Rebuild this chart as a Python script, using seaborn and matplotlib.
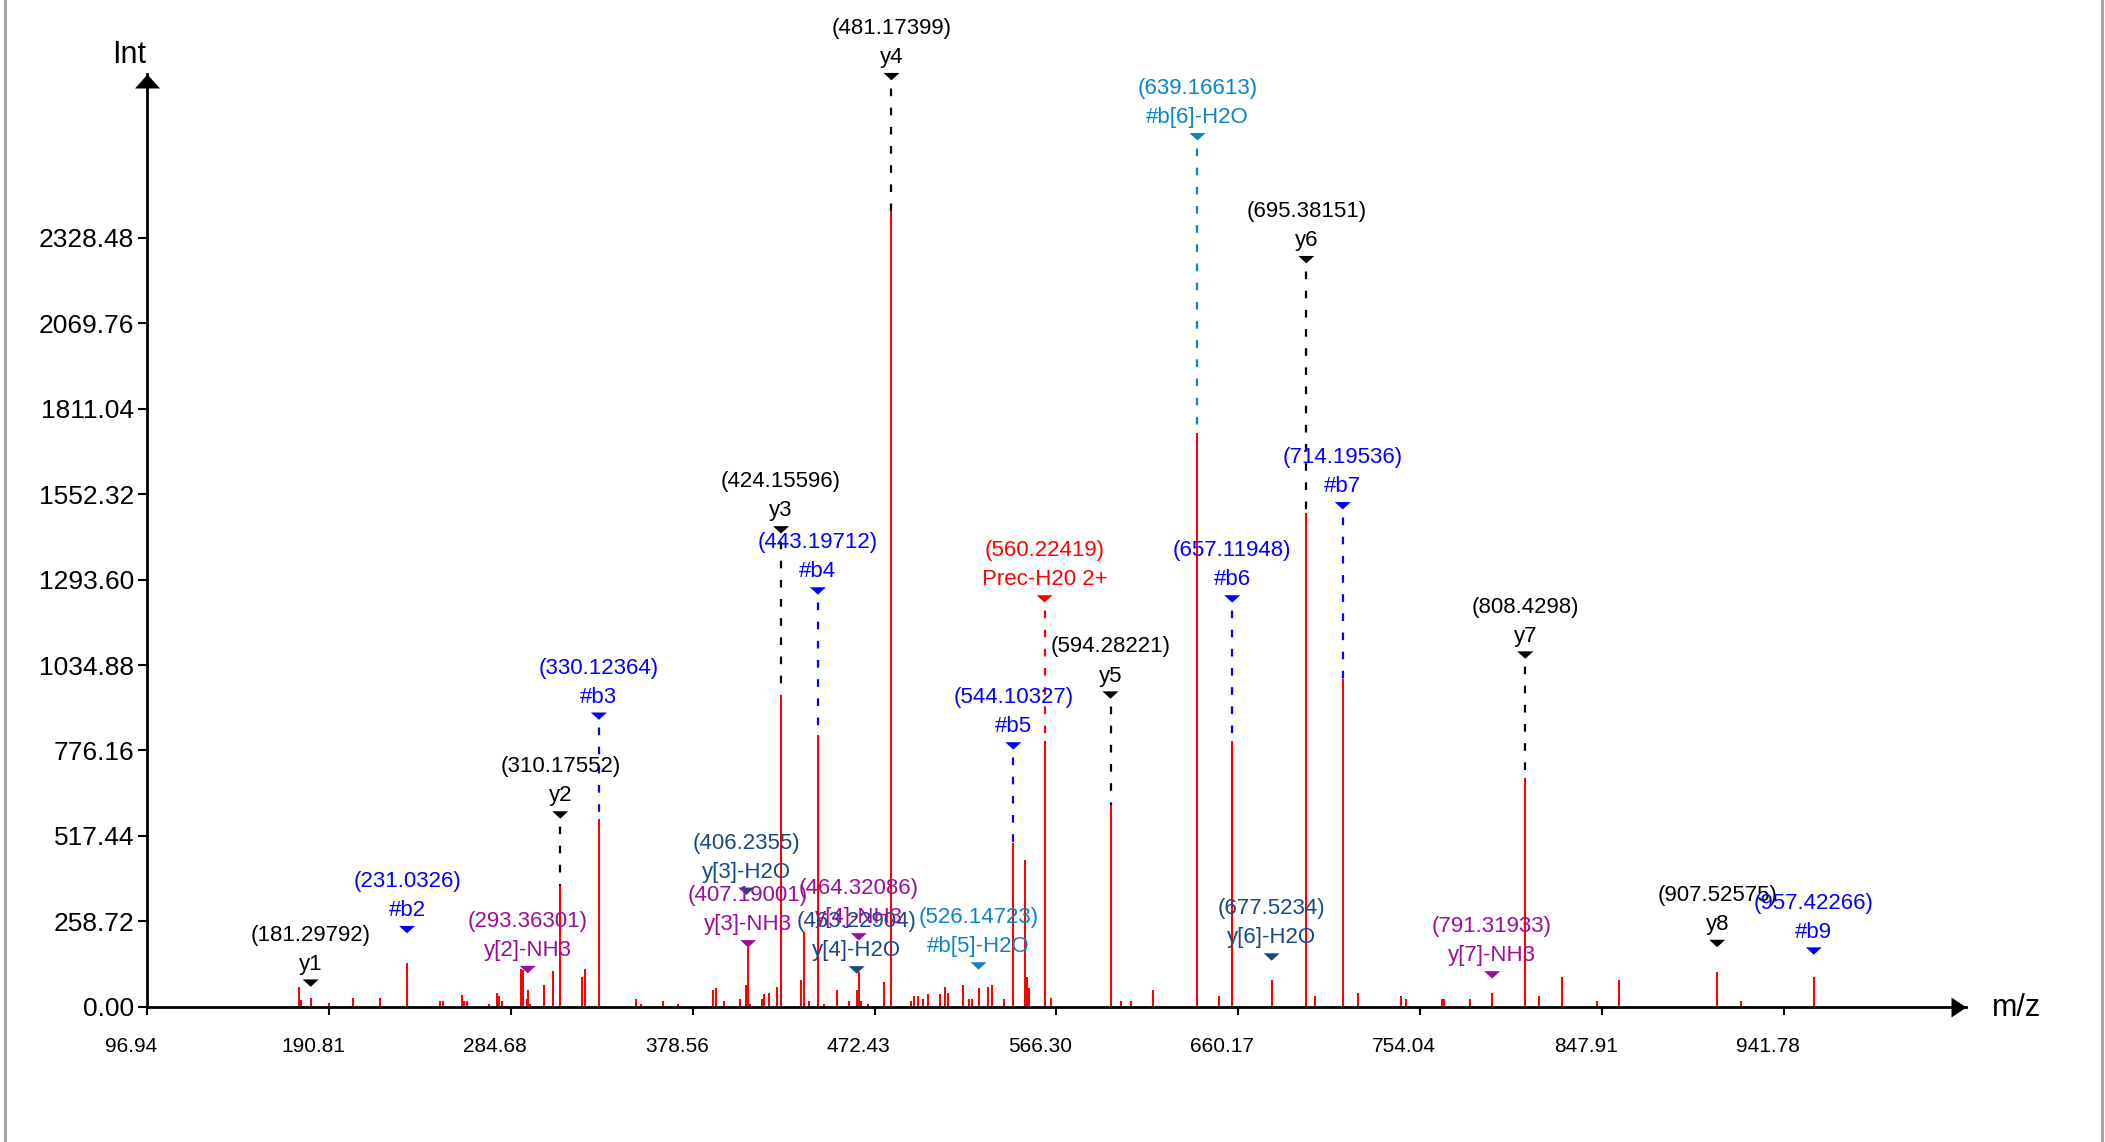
import numpy as np
import pandas as pd
import matplotlib.pyplot as plt
import seaborn as sns
from matplotlib.markers import MarkerStyle
from matplotlib.lines import Line2D
from matplotlib.transforms import ScaledTranslation

# Спектр: m/z и интенсивность пиков
peak_mz = [175.3, 176.4, 181.29792, 190.6, 203.4, 216.9,
           231.0326, 248.3, 249.5, 259.5, 260.7, 261.9, 273.4, 277.3, 278.5, 279.9,
           289.8, 291.0, 292.8, 293.36301, 294.5, 302.0, 306.4, 310.17552,
           321.5, 322.9, 330.12364, 349.2, 352.0, 363.0, 371.0, 389.0, 390.4, 394.6,
           402.8, 406.2355, 407.19001, 408.3, 414.1, 415.3, 417.8, 422.0, 424.15596,
           434.4, 436.0, 438.6, 443.19712, 446.5, 453.0, 459.0, 463.22904, 464.32086,
           465.5, 469.3, 477.3, 481.17399, 491.2, 493.0, 494.9, 497.7, 500.1, 506.1,
           508.7, 510.3, 517.9, 521.4, 522.7, 526.14723, 531.0, 532.9, 539.1,
           544.10327, 549.9, 551.2, 552.4, 560.22419, 563.8, 594.28221, 599.5, 605.0,
           616.0, 639.16613, 650.2, 657.11948, 677.5234, 695.38151, 699.9, 714.19536,
           722.0, 744.1, 746.7, 765.4, 766.7, 779.8, 791.31933, 808.4298, 815.5,
           827.6, 845.5, 856.6, 907.52575, 920.0, 957.42266]
peak_int = [61, 22, 28, 13, 28, 28,
            132, 18, 18, 35, 18, 18, 9, 42, 34, 18,
            116, 112, 24, 50, 9, 67, 108, 365,
            92, 116, 570, 25, 9, 17, 9, 50, 58, 17,
            25, 65, 182, 9, 25, 40, 42, 59, 943,
            82, 227, 17, 822, 9, 50, 17, 50, 105,
            17, 9, 74, 2410, 17, 34, 34, 25, 40, 40,
            59, 42, 65, 25, 25, 57, 59, 65, 25,
            496, 446, 92, 57, 806, 26, 610, 17, 17,
            50, 1736, 34, 806, 82, 1494, 34, 992,
            42, 34, 25, 25, 25, 25, 42, 692, 34,
            90, 17, 82, 105, 17, 90]

# Аннотированные ионы
ion_mz = [181.29792, 231.0326, 293.36301, 310.17552, 330.12364, 406.2355,
          407.19001, 424.15596, 443.19712, 463.22904, 464.32086, 481.17399,
          526.14723, 544.10327, 560.22419, 594.28221, 639.16613, 657.11948,
          677.5234, 695.38151, 714.19536, 791.31933, 808.4298, 907.52575,
          957.42266]
ion_name = ['y1', '#b2', 'y[2]-NH3', 'y2', '#b3', 'y[3]-H2O',
            'y[3]-NH3', 'y3', '#b4', 'y[4]-H2O', 'y[4]-NH3', 'y4',
            '#b[5]-H2O', '#b5', 'Prec-H20 2+', 'y5', '#b[6]-H2O', '#b6',
            'y[6]-H2O', 'y6', '#b7', 'y[7]-NH3', 'y7', 'y8',
            '#b9']
ion_kind = ['y', 'b', 'y-NH3', 'y', 'b', 'y-H2O',
            'y-NH3', 'y', 'b', 'y-H2O', 'y-NH3', 'y',
            'b-H2O', 'b', 'prec', 'y', 'b-H2O', 'b',
            'y-H2O', 'y', 'b', 'y-NH3', 'y', 'y',
            'b']
ion_level = [72, 234, 113, 581, 880, 350,
             191, 1444, 1259, 112, 212, 2816,
             124, 790, 1235, 944, 2634, 1235,
             151, 2262, 1517, 97, 1065, 192,
             169]
ion_colors = {'y': '#000000', 'b': '#0000ff', 'b-H2O': '#0a84c8',
              'y-H2O': '#174a85', 'y-NH3': '#9b0e9b', 'prec': '#ff0000'}

X_TICKS = [96.94, 190.81, 284.68, 378.56, 472.43, 566.30, 660.17, 754.04, 847.91, 941.78]
Y_TICKS = [0.00, 258.72, 517.44, 776.16, 1034.88, 1293.60, 1552.32, 1811.04, 2069.76, 2328.48]
X_END = 1036.0
Y_END = 2824

sns.set_theme(style='white', rc={'axes.edgecolor': 'black', 'text.color': 'black',
                                 'xtick.color': 'black', 'ytick.color': 'black'})
plt.rcParams['font.family'] = ['Liberation Sans', 'DejaVu Sans']
plt.rcParams['lines.scale_dashes'] = False

W, H = 2105, 1142
fig = plt.figure(figsize=(W / 100, H / 100), dpi=100)
ax = fig.add_axes([147.3 / W, 135.1 / H, (1966 - 147.3) / W, (1006.9 - 74) / H])

# пики
ax.vlines(peak_mz, 0, peak_int, colors='#ff0000', lw=1.45, zorder=2)

# треугольники-маркеры
tri = MarkerStyle([(-8, 3.7), (8, 3.7), (0, -3.7)])
ann = pd.DataFrame({'mz': ion_mz, 'level': ion_level, 'kind': ion_kind})
sns.scatterplot(data=ann, x='mz', y='level', hue='kind', palette=ion_colors,
                marker=tri, s=133, linewidth=0, legend=False, ax=ax,
                zorder=4, clip_on=False)

pk_mz = np.array(peak_mz)
top = max(peak_int)
for m, name, kind, lvl in zip(ion_mz, ion_name, ion_kind, ion_level):
    col = ion_colors[kind]
    h = peak_int[int(np.argmin(np.abs(pk_mz - m)))]
    if h > 0.1 * top:
        ax.plot([m, m], [lvl, h], color=col, lw=1.6, ls=(5.5, (5.5, 8.3)), zorder=3)
    ax.annotate(name, (m, lvl), xytext=(0, 13.7), textcoords='offset points',
                ha='center', va='center', color=col, fontsize=16, zorder=5,
                annotation_clip=False)
    ax.annotate(f'({m})', (m, lvl), xytext=(0, 34.6), textcoords='offset points',
                ha='center', va='center', color=col, fontsize=16, zorder=5,
                annotation_clip=False)

ax.set_xlim(X_TICKS[0], X_END)
ax.set_ylim(0, Y_END)
ax.set_xlabel('')
ax.set_ylabel('')
for s in ['top', 'right']:
    ax.spines[s].set_visible(False)
for s in ['left', 'bottom']:
    ax.spines[s].set_linewidth(2.0)
    ax.spines[s].set_color('black')

ax.set_xticks(X_TICKS)
ax.set_xticklabels([f'{v:.2f}' for v in X_TICKS])
ax.set_yticks(Y_TICKS)
ax.set_yticklabels([f'{v:.2f}' for v in Y_TICKS])
ax.tick_params(bottom=True, left=True, direction='out', width=1.5, color='black')
ax.tick_params(axis='x', length=6, labelsize=15, pad=16)
ax.tick_params(axis='y', length=6.5, labelsize=19, pad=3)
shift = ScaledTranslation(-0.16, 0, fig.dpi_scale_trans)
for lab in ax.get_xticklabels():
    lab.set_transform(lab.get_transform() + shift)


# наконечники стрелок осей
def head(verts):
    return MarkerStyle(verts), 2 * np.max(np.abs(verts)) * 0.72


y_head, y_ms = head([(-12.5, -14), (12.5, -14), (0, 0)])
x_head, x_ms = head([(-15, -10), (-15, 10), (0, 0)])
ax.plot([X_TICKS[0]], [Y_END], marker=y_head, ms=y_ms, mew=0, color='black',
        ls='none', clip_on=False, zorder=6)
ax.plot([X_END], [0], marker=x_head, ms=x_ms, mew=0, color='black',
        ls='none', clip_on=False, zorder=6)

fig.text(129.5 / W, 1 - 55 / H, 'Int', ha='center', va='center', fontsize=22)
fig.text(2017 / W, 1 - 1008 / H, 'm/z', ha='center', va='center', fontsize=22)

# серая рамка слева и справа
for xf in [4.5 / W, 2101.5 / W]:
    fig.add_artist(Line2D([xf, xf], [0, 1], transform=fig.transFigure,
                          color='#a6a6a6', lw=2.2))

fig.savefig('out.png', dpi=100, facecolor='white')
